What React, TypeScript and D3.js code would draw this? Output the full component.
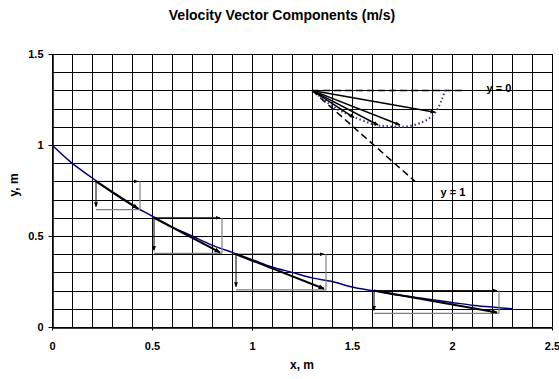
import { useEffect, useRef } from 'react';
import * as d3 from 'd3';

// curve y(x)
const curveX = [0, 0.1, 0.2, 0.3, 0.4, 0.5, 0.6, 0.7, 0.8, 0.9, 1.0, 1.1, 1.2, 1.3, 1.4, 1.5, 1.6, 1.7, 1.8, 1.9, 2.0, 2.1, 2.2, 2.3];
const curveY = [1.0, 0.9, 0.82, 0.74, 0.67, 0.61, 0.55, 0.5, 0.45, 0.41, 0.37, 0.33, 0.3, 0.27, 0.25, 0.22, 0.2, 0.18, 0.165, 0.15, 0.135, 0.12, 0.11, 0.1];

// velocity vectors drawn along the curve
const pointX = [0.22, 0.51, 0.92, 1.61];
const pointY = [0.8, 0.6, 0.4, 0.2];
const velX = [0.21, 0.33, 0.44, 0.615];
const velY = [-0.15, -0.19, -0.19, -0.12];

// hodograph, drawn from a common origin
const originX = 1.3;
const originY = 1.3;
const arcX = [1.3, 1.34, 1.407, 1.505, 1.62, 1.673, 1.757, 1.857, 1.915, 1.948, 1.965];
const arcY = [1.3, 1.266, 1.21, 1.156, 1.11, 1.104, 1.1, 1.128, 1.176, 1.247, 1.3];
const limitLabels = ['y = 0', 'y = 1'];
const limitEndX = [2.05, 1.815];
const limitEndY = [1.3, 0.8];

const xTicks = [0, 0.5, 1, 1.5, 2, 2.5];
const yTicks = [0, 0.5, 1, 1.5];

export default function App() {
  const svgRef = useRef<SVGSVGElement>(null);

  useEffect(() => {
    if (!svgRef.current) return;
    const svg = d3.select(svgRef.current);
    svg.selectAll('*').remove();

    const font = 'Liberation Sans, Arial, sans-serif';
    const x = d3.scaleLinear().domain([0, 2.5]).range([52, 552]);
    const y = d3.scaleLinear().domain([0, 1.5]).range([327, 54]);

    const defs = svg.append('defs');
    const marker = (id: string, size: number) => {
      defs.append('marker')
        .attr('id', id)
        .attr('viewBox', '0 0 10 10')
        .attr('refX', 9)
        .attr('refY', 5)
        .attr('markerUnits', 'userSpaceOnUse')
        .attr('markerWidth', size)
        .attr('markerHeight', size)
        .attr('orient', 'auto')
        .append('path')
        .attr('d', 'M0,1 L10,5 L0,9 Z')
        .attr('fill', '#000');
    };
    marker('head', 5);
    marker('headBig', 6);

    // Title
    svg.append('text')
      .attr('x', 282)
      .attr('y', 19.5)
      .attr('text-anchor', 'middle')
      .attr('font-family', font)
      .attr('font-weight', 'bold')
      .attr('font-size', '14px')
      .text('Velocity Vector Components (m/s)');

    // Grid
    const grid = svg.append('g').attr('shape-rendering', 'crispEdges');
    const gx = d3.range(0, 26).map(i => i / 10);
    const gy = d3.range(0, 16).map(i => i / 10);
    grid.selectAll('.vx').data(gx).enter().append('line')
      .attr('x1', d => Math.round(x(d)) + 0.5).attr('x2', d => Math.round(x(d)) + 0.5)
      .attr('y1', y(0)).attr('y2', y(1.5))
      .attr('stroke', '#000').attr('stroke-width', 1);
    grid.selectAll('.hy').data(gy).enter().append('line')
      .attr('y1', d => Math.round(y(d)) + 0.5).attr('y2', d => Math.round(y(d)) + 0.5)
      .attr('x1', x(0)).attr('x2', x(2.5))
      .attr('stroke', '#000').attr('stroke-width', 1);

    // Axes
    const xAxis = svg.append('g')
      .attr('transform', `translate(0,${Math.round(y(0)) + 0.5})`)
      .call(d3.axisBottom(x).tickValues(xTicks).tickSize(3).tickSizeOuter(0).tickPadding(12).tickFormat(d => `${d}`));
    const yAxis = svg.append('g')
      .attr('transform', `translate(${Math.round(x(0)) + 0.5},0)`)
      .call(d3.axisLeft(y).tickValues(yTicks).tickSize(4).tickSizeOuter(0).tickPadding(5).tickFormat(d => `${d}`));
    [xAxis, yAxis].forEach(a => {
      a.select('.domain').attr('stroke', '#000').attr('stroke-width', 1.5);
      a.selectAll('.tick line').attr('stroke', '#000');
      a.selectAll('text')
        .attr('font-family', font)
        .attr('font-weight', 'bold')
        .attr('font-size', '11px')
        .attr('fill', '#000');
    });

    // Axis labels
    svg.append('text')
      .attr('x', 302)
      .attr('y', 369)
      .attr('text-anchor', 'middle')
      .attr('font-family', font)
      .attr('font-weight', 'bold')
      .attr('font-size', '12px')
      .text('x, m');
    svg.append('text')
      .attr('transform', 'translate(18,185) rotate(-90)')
      .attr('text-anchor', 'middle')
      .attr('font-family', font)
      .attr('font-weight', 'bold')
      .attr('font-size', '12px')
      .text('y, m');

    // Curve
    const line = d3.line<number>()
      .x((_, i) => x(curveX[i]))
      .y(d => y(d))
      .curve(d3.curveMonotoneX);
    svg.append('path')
      .attr('d', line(curveY))
      .attr('fill', 'none')
      .attr('stroke', '#000080')
      .attr('stroke-width', 1.5);

    // Vector components along the curve
    pointX.forEach((px, i) => {
      const ex = px + velX[i];
      const ey = pointY[i] + velY[i];
      const g = svg.append('g');
      // grey completion lines
      g.append('line')
        .attr('x1', x(ex) + 2).attr('y1', y(pointY[i]))
        .attr('x2', x(ex) + 2).attr('y2', y(ey) + 1)
        .attr('stroke', '#808080').attr('stroke-width', 1.2);
      g.append('line')
        .attr('x1', x(px)).attr('y1', y(ey) + 1)
        .attr('x2', x(ex) + 2).attr('y2', y(ey) + 1)
        .attr('stroke', '#808080').attr('stroke-width', 1.2);
      // components
      g.append('line')
        .attr('x1', x(px)).attr('y1', y(pointY[i]))
        .attr('x2', x(ex)).attr('y2', y(pointY[i]))
        .attr('stroke', '#000').attr('stroke-width', 1)
        .attr('marker-end', 'url(#head)');
      g.append('line')
        .attr('x1', x(px)).attr('y1', y(pointY[i]))
        .attr('x2', x(px)).attr('y2', y(ey) - 2)
        .attr('stroke', '#000').attr('stroke-width', 1)
        .attr('marker-end', 'url(#head)');
      // resultant
      g.append('line')
        .attr('x1', x(px)).attr('y1', y(pointY[i]))
        .attr('x2', x(ex)).attr('y2', y(ey))
        .attr('stroke', '#000').attr('stroke-width', 2)
        .attr('marker-end', 'url(#headBig)');
    });

    // Limits (dashed)
    limitLabels.forEach((_, i) => {
      svg.append('line')
        .attr('x1', x(originX)).attr('y1', y(originY))
        .attr('x2', x(limitEndX[i])).attr('y2', y(limitEndY[i]))
        .attr('stroke', '#000').attr('stroke-width', 1.5)
        .attr('stroke-dasharray', '7,4');
    });
    svg.append('text')
      .attr('x', 499).attr('y', 92)
      .attr('text-anchor', 'middle')
      .attr('font-family', font).attr('font-weight', 'bold').attr('font-size', '11px')
      .text(limitLabels[0]);
    svg.append('text')
      .attr('x', 453).attr('y', 196)
      .attr('text-anchor', 'middle')
      .attr('font-family', font).attr('font-weight', 'bold').attr('font-size', '11px')
      .text(limitLabels[1]);

    // Hodograph
    const arc = d3.line<number>()
      .x((_, i) => x(arcX[i]))
      .y(d => y(d))
      .curve(d3.curveCatmullRom);
    svg.append('path')
      .attr('d', arc(arcY))
      .attr('fill', 'none')
      .attr('stroke', '#3333aa')
      .attr('stroke-width', 2)
      .attr('stroke-dasharray', '1.5,2.5');

    velX.forEach((vx, i) => {
      svg.append('line')
        .attr('x1', x(originX)).attr('y1', y(originY))
        .attr('x2', x(originX + vx)).attr('y2', y(originY + velY[i]))
        .attr('stroke', '#000').attr('stroke-width', 1.5)
        .attr('marker-end', 'url(#head)');
    });
  }, []);

  return (
    <svg
      ref={svgRef}
      width={559}
      height={379}
      style={{ position: 'absolute', left: 0, top: 0, background: '#fff' }}
    />
  );
}
